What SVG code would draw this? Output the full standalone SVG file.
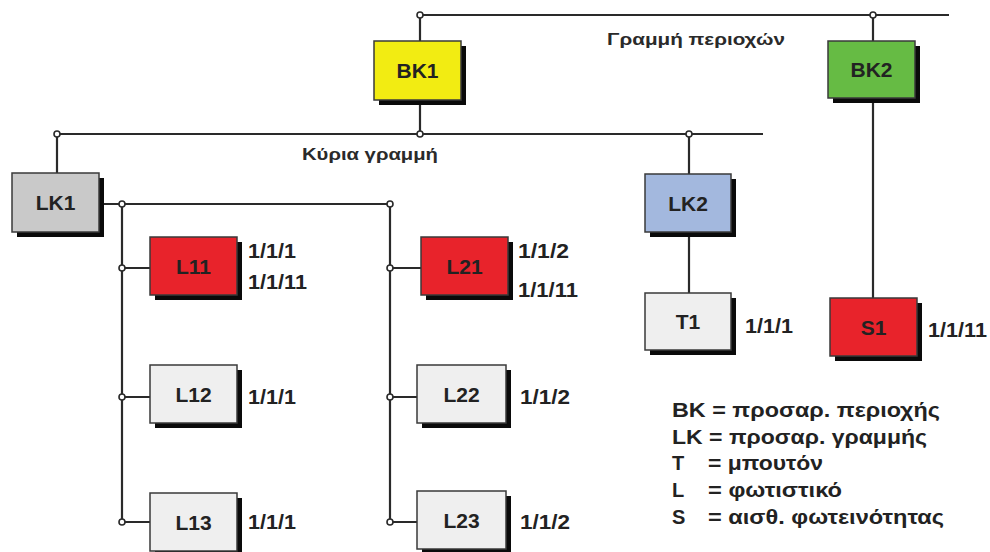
<svg xmlns="http://www.w3.org/2000/svg" width="990" height="552" viewBox="0 0 990 552">
<style>
.ln{stroke:#2a2a2a;stroke-width:2.2;fill:none}
.dot{fill:#fff;stroke:#2a2a2a;stroke-width:1.6}
.box{stroke:#3a3a3a;stroke-width:1.5}
.sh{fill:#0a0a0a}
.lbl{font-family:"Liberation Sans",Arial,sans-serif;font-weight:bold;font-size:21px;fill:#222;text-anchor:middle}
.adr{font-family:"Liberation Sans",Arial,sans-serif;font-weight:bold;font-size:20px;fill:#222}
.bus{font-family:"Liberation Sans",Arial,sans-serif;font-weight:bold;font-size:16.5px;fill:#2a2a2a}
.leg{font-family:"Liberation Sans",Arial,sans-serif;font-weight:bold;font-size:20px;fill:#222}
.yel{fill:#f2ec12}.grn{fill:#66bb44}.gry{fill:#c9c9c9}.blu{fill:#a3b8de}.red{fill:#e8232b}.wht{fill:#efefef}
</style>
<rect width="990" height="552" fill="#fff"/>
<g id="connectors">
<path class="ln" d="M420 15H949M420 15V41M420 100V134M873 15V41M873 98V298"/>
<path class="ln" d="M57 134H763M57 134V173M689 134V174M689 232V293"/>
<path class="ln" d="M99 204H390M122 204V522M390 204V522"/>
<path class="ln" d="M122 268H150M122 397H150M122 522H150M390 268H421M390 397H417M390 522H417"/>
<circle class="dot" cx="420" cy="15" r="3"/>
<circle class="dot" cx="873" cy="15" r="3"/>
<circle class="dot" cx="57" cy="134" r="3"/>
<circle class="dot" cx="420" cy="134" r="3"/>
<circle class="dot" cx="689" cy="134" r="3"/>
<circle class="dot" cx="122" cy="204" r="3"/>
<circle class="dot" cx="390" cy="204" r="3"/>
<circle class="dot" cx="122" cy="268" r="3"/>
<circle class="dot" cx="122" cy="397" r="3"/>
<circle class="dot" cx="122" cy="522" r="3"/>
<circle class="dot" cx="390" cy="268" r="3"/>
<circle class="dot" cx="390" cy="397" r="3"/>
<circle class="dot" cx="390" cy="522" r="3"/>
</g>
<text class="bus" x="607" y="45" textLength="178" lengthAdjust="spacingAndGlyphs">Γραμμή περιοχών</text>
<text class="bus" x="302" y="160" textLength="136" lengthAdjust="spacingAndGlyphs">Κύρια γραμμή</text>
<g id="BK1"><rect class="sh" x="379" y="46" width="87" height="59"/><rect class="box yel" x="374" y="41" width="87" height="59"/><text class="lbl" x="417.5" y="78">BK1</text></g>
<g id="BK2"><rect class="sh" x="833" y="46" width="87" height="57"/><rect class="box grn" x="828" y="41" width="87" height="57"/><text class="lbl" x="871.5" y="77">BK2</text></g>
<g id="LK1"><rect class="sh" x="17" y="178" width="87" height="59"/><rect class="box gry" x="12" y="173" width="87" height="59"/><text class="lbl" x="55.5" y="210">LK1</text></g>
<g id="LK2"><rect class="sh" x="650" y="179" width="86" height="58"/><rect class="box blu" x="645" y="174" width="86" height="58"/><text class="lbl" x="688" y="211">LK2</text></g>
<g id="L11"><rect class="sh" x="155" y="242" width="87" height="58"/><rect class="box red" x="150" y="237" width="87" height="58"/><text class="lbl" x="193.5" y="274">L11</text><text class="adr" x="248" y="258" textLength="48" lengthAdjust="spacingAndGlyphs">1/1/1</text><text class="adr" x="248" y="289" textLength="59" lengthAdjust="spacingAndGlyphs">1/1/11</text></g>
<g id="L12"><rect class="sh" x="155" y="370" width="87" height="58"/><rect class="box wht" x="150" y="365" width="87" height="58"/><text class="lbl" x="193.5" y="402">L12</text><text class="adr" x="248" y="404" textLength="48" lengthAdjust="spacingAndGlyphs">1/1/1</text></g>
<g id="L13"><rect class="sh" x="155" y="498" width="87" height="58"/><rect class="box wht" x="150" y="493" width="87" height="58"/><text class="lbl" x="193.5" y="530">L13</text><text class="adr" x="248" y="529" textLength="48" lengthAdjust="spacingAndGlyphs">1/1/1</text></g>
<g id="L21"><rect class="sh" x="426" y="242" width="87" height="58"/><rect class="box red" x="421" y="237" width="87" height="58"/><text class="lbl" x="464.5" y="274">L21</text><text class="adr" x="518" y="258" textLength="51" lengthAdjust="spacingAndGlyphs">1/1/2</text><text class="adr" x="518" y="297" textLength="60" lengthAdjust="spacingAndGlyphs">1/1/11</text></g>
<g id="L22"><rect class="sh" x="422" y="370" width="89" height="58"/><rect class="box wht" x="417" y="365" width="89" height="58"/><text class="lbl" x="461.5" y="402">L22</text><text class="adr" x="520" y="404" textLength="50" lengthAdjust="spacingAndGlyphs">1/1/2</text></g>
<g id="L23"><rect class="sh" x="422" y="496" width="89" height="58"/><rect class="box wht" x="417" y="491" width="89" height="58"/><text class="lbl" x="461.5" y="528">L23</text><text class="adr" x="520" y="529" textLength="50" lengthAdjust="spacingAndGlyphs">1/1/2</text></g>
<g id="T1"><rect class="sh" x="650" y="298" width="86" height="57"/><rect class="box wht" x="645" y="293" width="86" height="57"/><text class="lbl" x="688" y="329">T1</text><text class="adr" x="745" y="333" textLength="48" lengthAdjust="spacingAndGlyphs">1/1/1</text></g>
<g id="S1"><rect class="sh" x="835" y="303" width="87" height="58"/><rect class="box red" x="830" y="298" width="87" height="58"/><text class="lbl" x="873.5" y="335">S1</text><text class="adr" x="928" y="337" textLength="59" lengthAdjust="spacingAndGlyphs">1/1/11</text></g>
<g id="legend">
<text class="leg" x="672" y="417" textLength="268" lengthAdjust="spacingAndGlyphs">BK = προσαρ. περιοχής</text>
<text class="leg" x="672" y="444" textLength="255" lengthAdjust="spacingAndGlyphs">LK = προσαρ. γραμμής</text>
<text class="leg" x="672" y="470">T</text><text class="leg" x="708" y="470" textLength="115" lengthAdjust="spacingAndGlyphs">= μπουτόν</text>
<text class="leg" x="672" y="497">L</text><text class="leg" x="708" y="497" textLength="134" lengthAdjust="spacingAndGlyphs">= φωτιστικό</text>
<text class="leg" x="672" y="524">S</text><text class="leg" x="708" y="524" textLength="236" lengthAdjust="spacingAndGlyphs">= αισθ. φωτεινότητας</text>
</g>
</svg>
